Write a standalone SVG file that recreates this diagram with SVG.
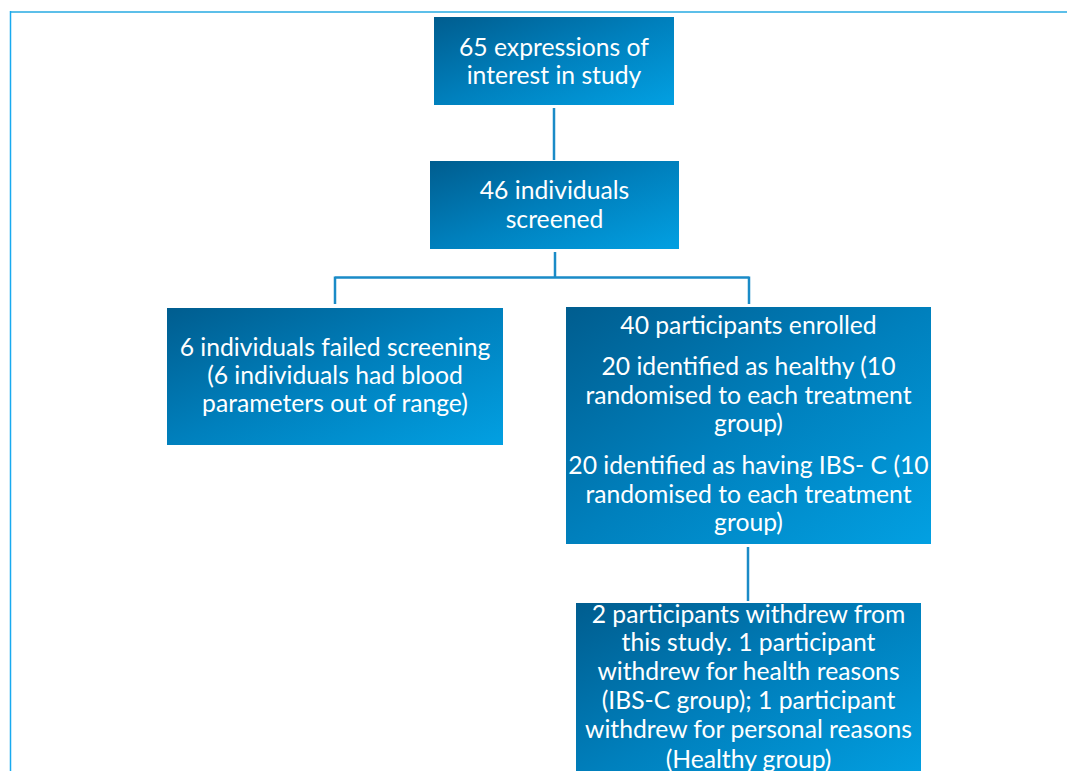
<svg xmlns="http://www.w3.org/2000/svg" width="1067" height="771" viewBox="0 0 1067 771">
  <defs>
    <linearGradient id="boxGrad" x1="0" y1="0" x2="1" y2="1">
      <stop offset="0" stop-color="#005d8f"/>
      <stop offset="0.5" stop-color="#0080bd"/>
      <stop offset="1" stop-color="#02a0e2"/>
    </linearGradient>
    <style>
      .box { fill: url(#boxGrad); }
      .lbl { font-family: Lato, "Liberation Sans", sans-serif; font-size: 24.7px; fill: #ffffff; text-anchor: middle; }
      .conn { fill: none; stroke: #1a8bc7; stroke-width: 2.5; }
    </style>
  </defs>
  <rect x="0" y="0" width="1067" height="771" fill="#ffffff"/>
  <g id="frame">
    <line x1="10" y1="12" x2="1067" y2="12" stroke="#5cbfe9" stroke-width="2"/>
    <line x1="10.5" y1="11" x2="10.5" y2="771" stroke="#18aaf0" stroke-width="1.5"/>
  </g>
  <g id="connectors">
    <path class="conn" d="M554,108 V160"/>
    <path class="conn" d="M555,252 V277.5 M335,277.5 H749 M335,276.5 V304 M749,276.5 V304"/>
    <path class="conn" d="M748,547 V601"/>
  </g>
  <g id="node-expressions">
    <rect class="box" x="434" y="17" width="240" height="88"/>
    <text class="lbl" x="554" y="56">65 expressions of</text>
    <text class="lbl" x="554" y="84">interest in study</text>
  </g>
  <g id="node-screened">
    <rect class="box" x="430" y="161" width="249" height="88"/>
    <text class="lbl" x="554.5" y="199">46 individuals</text>
    <text class="lbl" x="554.5" y="228">screened</text>
  </g>
  <g id="node-failed">
    <rect class="box" x="167" y="308" width="336" height="137"/>
    <text class="lbl" x="335" y="356">6 individuals failed screening</text>
    <text class="lbl" x="335" y="384">(6 individuals had blood</text>
    <text class="lbl" x="335" y="412">parameters out of range)</text>
  </g>
  <g id="node-enrolled">
    <rect class="box" x="566" y="307" width="365" height="237"/>
    <text class="lbl" x="748.5" y="334">40 participants enrolled</text>
    <text class="lbl" x="748.5" y="375">20 identified as healthy (10</text>
    <text class="lbl" x="748.5" y="404">randomised to each treatment</text>
    <text class="lbl" x="748.5" y="432">group)</text>
    <text class="lbl" x="748.5" y="474">20 identified as having IBS- C (10</text>
    <text class="lbl" x="748.5" y="503">randomised to each treatment</text>
    <text class="lbl" x="748.5" y="531">group)</text>
  </g>
  <g id="node-withdrew">
    <rect class="box" x="576" y="603" width="345" height="180"/>
    <text class="lbl" x="748.5" y="623">2 participants withdrew from</text>
    <text class="lbl" x="748.5" y="651">this study. 1 participant</text>
    <text class="lbl" x="748.5" y="680">withdrew for health reasons</text>
    <text class="lbl" x="748.5" y="709">(IBS-C group); 1 participant</text>
    <text class="lbl" x="748.5" y="738">withdrew for personal reasons</text>
    <text class="lbl" x="748.5" y="768">(Healthy group)</text>
  </g>
</svg>
